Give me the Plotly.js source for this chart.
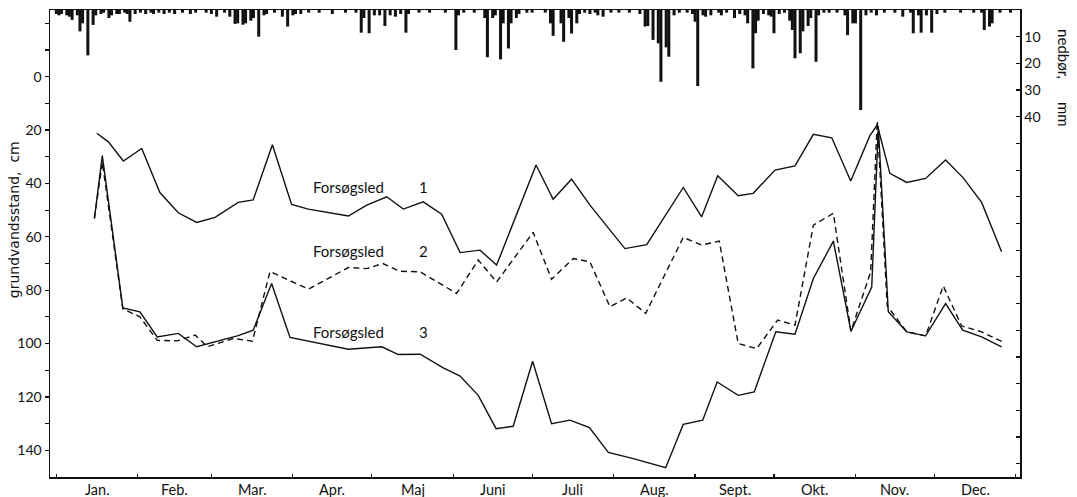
<!DOCTYPE html>
<html>
<head>
<meta charset="utf-8">
<script src="https://cdn.plot.ly/plotly-3.0.1.min.js"></script>
<style>html,body{margin:0;padding:0;background:#fff;}#chart{width:1077px;height:497px;}</style>
</head>
<body>
<div id="chart"></div>
<script>
// Months
const monthNames = ['Jan.','Feb.','Mar.','Apr.','Maj','Juni','Juli','Aug.','Sept.','Okt.','Nov.','Dec.'];
const monthLengths = [31,28,31,30,31,30,31,31,30,31,30,31];

// Groundwater level (cm below surface), x = day of year
const s1Day = [15.4,19.8,25.5,32.5,39.4,46.4,53.4,60.4,69.2,74.9,82.2,89.5,95.9,111.1,118.1,125.7,132,139.6,146.6,153.6,161.2,167.5,182.5,189,196,203,216.3,224.6,238.5,245.5,251.6,259.4,265.1,273.4,281,288,295,302.2,309.5,312.3,317.1,323.5,330.7,338.3,345,352,359.6];
const s1Val = [21.2,24.4,31.6,26.9,43.4,51,54.6,52.7,47.1,46.2,25.5,47.9,49.6,52.2,48.1,45,49.6,46.9,51.5,65.9,65,70.6,33.1,45.9,38.4,48.1,64.4,62.9,41.5,52.5,37.1,44.6,43.7,35,33.4,21.6,22.9,39.1,22.1,18.1,36.2,39.6,38.1,31.2,37.9,47.1,65.6];

const s2Day = [14.5,17.5,25.3,31.8,38.4,46.1,52.8,57.5,67.3,74.6,81.3,88.9,95.9,111.1,118.1,124.2,130.7,138.4,152.3,160.5,167.5,181.4,188.4,196.7,203,210.6,217,224.2,238.5,245.5,252.2,259.4,266.4,274.4,281,288,295.6,302.3,309.8,312.3,316.1,323.5,330.7,337.4,344.4,352,360];
const s2Val = [53.1,32,87,90,98.8,99,96.8,101.2,98.1,99.1,73,76.5,79.6,71.5,71.9,70,72.9,73.1,81.2,68.7,76.9,58.3,75.9,68.1,69.4,86.2,82.9,88.7,60.2,63.1,61.6,100,101.9,91.2,93.1,55.6,51.2,95.4,73.1,16.6,85.9,95.6,97.1,78.4,93.4,95.6,99.4];

const s3Day = [14.5,17.5,25.3,31.8,38.4,46.4,53.4,69.2,74.9,81.9,88.9,99.1,111.1,123.8,130.1,138.4,147.2,153.6,160.5,167.3,173.8,181.2,188.4,195.4,202.8,210,219.5,231.8,238.5,245.9,251.4,259.4,265.5,273.7,281,288,295.6,302.3,310.2,312.7,316.5,323.5,330.7,338.3,344.8,352,359.6];
const s3Val = [53.1,29.6,86.6,88.1,97.5,96.2,101.2,97,95,77.5,97.7,99.7,102.1,101.2,104.1,104,109.1,112.2,119.4,131.9,131,106.6,130,128.7,131.5,140.8,143.1,146.5,130.3,128.7,114.4,119.4,118.1,95.6,96.5,75.6,61.6,95.4,78.8,18.7,88.1,95.6,97.1,85,95,97.5,101.2];

// Daily precipitation (mm)
const rainDay = [0,1,2,4,5,6,8,9,10,12,14,15,17,18,20,21,23,24,26,27,28,30,32,34,36,37,39,41,43,45,48,51,53,57,59,61,64,66,68,69,71,72,74,75,77,79,80,83,86,88,90,91,93,96,100,105,110,114,116,117,119,121,123,125,127,129,131,133,134,138,142,148,152,153,155,159,163,164,166,167,169,170,172,173,175,176,179,181,186,188,189,192,193,195,196,198,199,201,203,205,206,208,211,214,218,222,224,225,227,229,230,232,233,235,237,240,242,243,244,246,247,249,252,253,255,258,260,262,263,265,266,267,269,271,272,273,275,277,279,280,281,283,284,286,287,289,290,292,294,297,300,301,303,304,306,308,310,312,315,319,322,325,326,328,329,331,333,335,338,344,349,352,353,355,356,359,363];
const rainMm = [1.5,2,1.5,2,2.5,3.7,2,8,5,17,5.6,2,1.5,1,3,2,1.5,1.5,1,1.5,4.4,1.5,1,1.5,1,1.5,1,1.5,1,1.5,1,1.5,1,1,1.5,2.5,1,2.5,5.2,5,5.5,5,4,3,10,2,1.5,1,2.5,6.2,2,1.5,1.5,1,1,1.5,1,1,8.5,3,8.7,2,2,6,2,2.5,1.5,8.5,1.5,1,1,1,15,2,1,1,3,17.7,3,2,18.5,5,14.4,5,3,1.5,1,1,1,5,9.7,5,11.9,3,8.8,5,1.5,1,1.5,1,2,2.5,1,1,1,1.5,6.2,6,11.2,12.5,26.9,14,17.5,2,1,1,1.5,4.4,28.5,2,2.5,2,1,2,1,3,1.5,2,5,21.9,8.7,4,1.5,2,2.5,8.7,1.5,1,4,7.5,18.1,16.2,8,6,3,19.4,2,1,1,1,2,9.4,5,5,37.5,2,1,2,1,1,2.5,1,8.7,2,8.5,2,8.5,1.5,1,1,1,1,7.5,6.2,5,1,1];

// Axis labels
const yTickVals = [-20,-10,0,10,20,30,40,50,60,70,80,90,100,110,120,130,140];
const yTickText = ['','','0','','20','','40','','60','','80','','100','','120','','140'];
const rainTickVals = [10,20,30,40,50,60,70,80,90,100,110,120,130,140,150,160,170];
const rainTickText = ['10','20','30','40','','','','','','','','','','','','',''];
const seriesLabels = ['Forsøgsled', 'Forsøgsled', 'Forsøgsled'];
const seriesNumbers = ['1','2','3'];
const labelY = [41.2, 65.4, 95.6];

// derived month boundaries / mids
const bounds = [0];
monthLengths.forEach(l => bounds.push(bounds[bounds.length-1] + l));
const mids = monthLengths.map((l,i) => bounds[i] + l/2);

// precipitation drawn as vertical strokes hanging from the top (0 mm)
const rx = [], ry = [];
rainDay.forEach((d,i) => { rx.push(d, d, null); ry.push(0, rainMm[i], null); });

const FONT = 'Lato, "Open Sans", sans-serif';
const black = '#111';
const XR = [-2.4, 366.6];

const traces = [
  {type:'scatter', mode:'lines', x: rx, y: ry, xaxis:'x', yaxis:'y2', line:{color:black, width:3}},
  {type:'scatter', mode:'lines', x: s1Day, y: s1Val, line:{color:black, width:1.4}},
  {type:'scatter', mode:'lines', x: s2Day, y: s2Val, line:{color:black, width:1.4, dash:'6px,4px'}},
  {type:'scatter', mode:'lines', x: s3Day, y: s3Val, line:{color:black, width:1.4}}
];

const annotations = [];
for (let i = 0; i < 3; i++) {
  annotations.push({xref:'x', yref:'y', x: 97, y: labelY[i], text: seriesLabels[i], showarrow:false, xanchor:'left', yanchor:'middle', font:{family:FONT, size:15, color:black}});
  annotations.push({xref:'x', yref:'y', x: 139.5, y: labelY[i], text: seriesNumbers[i], showarrow:false, xanchor:'center', yanchor:'middle', font:{family:FONT, size:15, color:black}});
}
monthNames.forEach((m,i) => {
  annotations.push({xref:'x', yref:'paper', x: mids[i], y: -0.004, text: m, showarrow:false, xanchor:'center', yanchor:'top', font:{family:FONT, size:14.5, color:black}});
});
annotations.push({xref:'paper', yref:'paper', x: -0.037, y: 0.55, text:'grundvandsstand,\u00a0\u00a0cm', textangle:-90, showarrow:false, xanchor:'center', yanchor:'middle', font:{family:'"DejaVu Sans", sans-serif', size:14, color:black}});
annotations.push({xref:'paper', yref:'paper', x: 1.046, y: 0.855, text:'nedbør,\u00a0\u00a0\u00a0\u00a0\u00a0\u00a0mm', textangle:90, showarrow:false, xanchor:'center', yanchor:'middle', font:{family:FONT, size:15, color:black}});

const layout = {
  width:1077, height:497,
  margin:{l:50, r:57, t:10, b:20},
  paper_bgcolor:'#fff', plot_bgcolor:'#fff',
  showlegend:false,
  font:{family:FONT, size:14, color:black},
  xaxis:{
    range: XR, showgrid:false, zeroline:false,
    showline:true, linecolor:black, linewidth:1.5, mirror:true,
    tickmode:'array', tickvals: bounds, showticklabels:false,
    ticks:'inside', ticklen:3, tickwidth:1.2, tickcolor:black
  },
  yaxis:{
    range:[150, -25], showgrid:false, zeroline:false,
    showline:true, linecolor:black, linewidth:1.5,
    tickmode:'array', tickvals: yTickVals, ticktext: yTickText,
    ticks:'outside', ticklen:4, tickwidth:1.2, tickcolor:black,
    tickfont:{family:FONT, size:14, color:black}
  },
  yaxis2:{
    overlaying:'y', side:'right', anchor:'x',
    range:[175, 0], showgrid:false, zeroline:false,
    showline:true, linecolor:black, linewidth:1.5,
    tickmode:'array', tickvals: rainTickVals, ticktext: rainTickText,
    ticks:'inside', ticklen:4, tickwidth:1.2, tickcolor:black,
    tickfont:{family:FONT, size:14, color:black}
  },
  annotations: annotations
};

Plotly.newPlot('chart', traces, layout, {staticPlot:true, displayModeBar:false});
</script>
</body>
</html>
